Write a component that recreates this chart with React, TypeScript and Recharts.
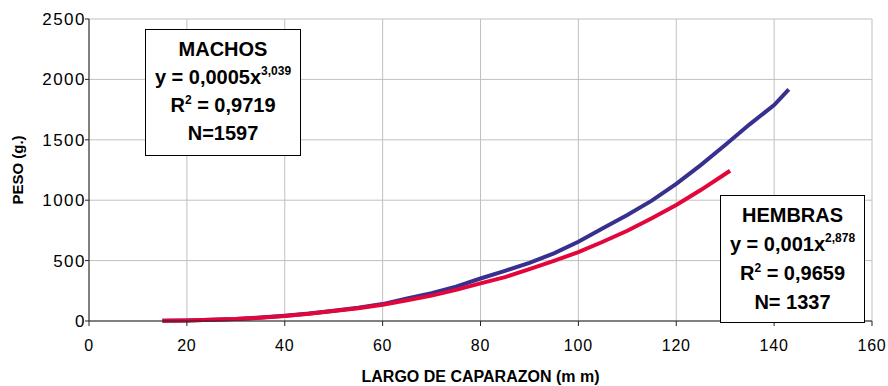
import React from "react";
import { LineChart, Line, XAxis, YAxis, CartesianGrid } from "recharts";

// Curvas peso-largo (lectura aproximada del grafico original)
const MACHOS_LARGO = [15, 20, 25, 30, 35, 40, 45, 50, 55, 60, 65, 70, 75, 80, 85, 90, 95, 100, 105, 110, 115, 120, 125, 130, 135, 140, 143];
const MACHOS_PESO = [2, 5, 10, 16, 28, 44, 62, 85, 110, 140, 186, 230, 285, 352, 415, 482, 560, 656, 767, 877, 996, 1135, 1290, 1457, 1628, 1788, 1918];

const HEMBRAS_LARGO = [15, 20, 25, 30, 35, 40, 45, 50, 55, 60, 65, 70, 75, 80, 85, 90, 95, 100, 105, 110, 115, 120, 125, 131];
const HEMBRAS_PESO = [2, 5, 10, 16, 27, 42, 60, 82, 106, 135, 172, 210, 258, 312, 363, 430, 498, 570, 656, 747, 850, 960, 1084, 1244];

const X_TICKS = [0, 20, 40, 60, 80, 100, 120, 140, 160];
const Y_TICKS = [0, 500, 1000, 1500, 2000, 2500];

const machos = MACHOS_LARGO.map((x, i) => ({ x, y: MACHOS_PESO[i] }));
const hembras = HEMBRAS_LARGO.map((x, i) => ({ x, y: HEMBRAS_PESO[i] }));

const FONT = "'Liberation Sans', Arial, sans-serif";

const boxStyle: React.CSSProperties = {
  position: "absolute",
  background: "#fff",
  border: "1px solid #000",
  fontFamily: FONT,
  fontWeight: "bold",
  fontSize: 20,
  color: "#000",
  textAlign: "center",
  boxSizing: "border-box",
  lineHeight: "28px",
  whiteSpace: "nowrap",
};

const sup: React.CSSProperties = { fontSize: 12, verticalAlign: "top", position: "relative", top: -6 };
const sup2: React.CSSProperties = { fontSize: 12, verticalAlign: "top", position: "relative", top: -5 };

export default function App() {
  return (
    <div style={{ position: "absolute", left: 0, top: 0, width: 888, height: 386, background: "#fff" }}>
      <LineChart width={888} height={386} margin={{ top: 19, right: 16, left: 29, bottom: 0 }}>
        <CartesianGrid stroke="#c0c0c0" strokeWidth={1} />
        <XAxis
          type="number"
          dataKey="x"
          domain={[0, 160]}
          ticks={X_TICKS}
          height={65}
          tickSize={5}
          tickMargin={14}
          stroke="#222"
          tick={{ fill: "#000", fontSize: 16, fontFamily: FONT, letterSpacing: 0.8 }}
          label={{
            value: "LARGO DE CAPARAZON  (m m)",
            position: "insideBottom",
            offset: 4,
            style: { fill: "#000", fontSize: 16, fontWeight: "bold", fontFamily: FONT },
          }}
        />
        <YAxis
          type="number"
          domain={[0, 2500]}
          ticks={Y_TICKS}
          width={60}
          tickSize={4}
          tickMargin={-1}
          stroke="#222"
          tick={{ fill: "#000", fontSize: 17, fontFamily: FONT, letterSpacing: 1.5 }}
          label={{
            value: "PESO (g.)",
            angle: -90,
            position: "insideLeft",
            offset: -11,
            style: { fill: "#000", fontSize: 15, fontWeight: "bold", fontFamily: FONT, textAnchor: "middle" },
          }}
        />
        <Line
          data={machos}
          dataKey="y"
          type="linear"
          stroke="#38308f"
          strokeWidth={4}
          dot={false}
          isAnimationActive={false}
        />
        <Line
          data={hembras}
          dataKey="y"
          type="linear"
          stroke="#e2063a"
          strokeWidth={4}
          dot={false}
          isAnimationActive={false}
        />
      </LineChart>

      <div style={{ ...boxStyle, left: 145, top: 29, width: 156, height: 127, paddingTop: 5 }}>
        <div>MACHOS</div>
        <div>
          y = 0,0005x<span style={sup}>3,039</span>
        </div>
        <div>
          R<span style={sup2}>2</span> = 0,9719
        </div>
        <div>N=1597</div>
      </div>

      <div style={{ ...boxStyle, left: 720, top: 195, width: 145, height: 128, paddingTop: 5, lineHeight: "29px" }}>
        <div>HEMBRAS</div>
        <div>
          y = 0,001x<span style={sup}>2,878</span>
        </div>
        <div>
          R<span style={sup2}>2</span> = 0,9659
        </div>
        <div>N= 1337</div>
      </div>
    </div>
  );
}
